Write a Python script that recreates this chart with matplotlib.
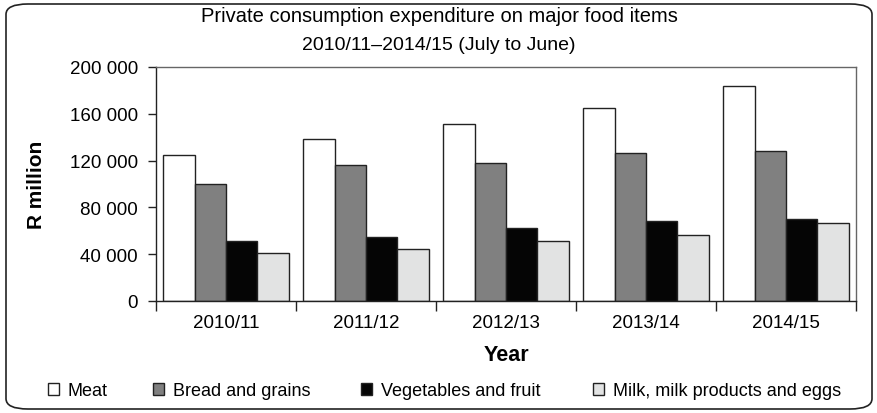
import numpy as np
import matplotlib.pyplot as plt
from matplotlib.patches import FancyBboxPatch, Patch
from matplotlib.ticker import FuncFormatter

plt.rcParams['font.family'] = ['Liberation Sans', 'DejaVu Sans']
plt.rcParams['font.size'] = 13

years = ['2010/11', '2011/12', '2012/13', '2013/14', '2014/15']
meat = [125000, 138600, 151400, 165100, 183400]
bread = [100000, 116600, 118300, 126600, 128600]
veg = [51700, 55100, 62000, 68600, 70000]
milk = [41400, 44600, 51400, 56600, 66600]
series_names = ['Meat', 'Bread and grains', 'Vegetables and fruit', 'Milk, milk products and eggs']
series_colors = ['#ffffff', '#808080', '#050505', '#e2e3e3']

fig = plt.figure(figsize=(8.78, 4.14), dpi=100)
ax = fig.add_axes([156 / 878, 1 - 302 / 414, 700 / 878, 234 / 414])

# rounded outer frame
frame = FancyBboxPatch((6 / 878, 4 / 414), 866 / 878, 405 / 414,
                       boxstyle='round,pad=0,rounding_size=0.025',
                       transform=fig.transFigure, fill=False,
                       edgecolor='#222222', linewidth=1.2)
fig.patches.append(frame)

x = np.arange(len(years))
w = 0.224
data = [meat, bread, veg, milk]
for i, (vals, c) in enumerate(zip(data, series_colors)):
    ax.bar(x + (i - 1.5) * w, vals, width=w, color=c, edgecolor='#222222', linewidth=1.0)

ax.set_xlim(-0.5, len(years) - 0.5)
ax.set_ylim(0, 200000)
ax.set_yticks(np.arange(0, 200001, 40000))
ax.yaxis.set_major_formatter(FuncFormatter(lambda v, p: f'{int(v):,}'.replace(',', ' ')))
ax.set_xticks(x)
ax.set_xticklabels(years, fontsize=13.5)
ax.set_xticks(np.arange(-0.5, len(years), 1), minor=True)
ax.tick_params(axis='x', which='major', length=0, pad=9)
ax.tick_params(axis='x', which='minor', length=7, width=1, color='#222222')
ax.tick_params(axis='y', length=6, width=1, color='#222222', labelsize=13.5, pad=7)

for s in ['left', 'bottom']:
    ax.spines[s].set_color('#222222')
    ax.spines[s].set_linewidth(1.0)
for s in ['top', 'right']:
    ax.spines[s].set_color('#666666')
    ax.spines[s].set_linewidth(1.0)

ax.set_ylabel('R million', fontsize=15, fontweight='bold', labelpad=17)
ax.set_xlabel('Year', fontsize=15.5, fontweight='bold', labelpad=10)

fig.text(0.5, 1 - 17 / 414, 'Private consumption expenditure on major food items',
         ha='center', va='center', fontsize=14.5)
fig.text(0.5, 1 - 45 / 414, '2010/11\u20132014/15 (July to June)',
         ha='center', va='center', fontsize=14)

# one legend entry per series, placed along the bottom
legend_x = [48, 153, 361, 593]
for name, c, lx in zip(series_names, series_colors, legend_x):
    h = Patch(facecolor=c, edgecolor='#222222', linewidth=1.0)
    fig.legend([h], [name], loc='center left', bbox_to_anchor=(lx / 878, 1 - 392 / 414),
               frameon=False, fontsize=13, handlelength=0.6, handleheight=0.6,
               handletextpad=0.5, borderpad=0, borderaxespad=0)

fig.savefig('out.png', dpi=100)
